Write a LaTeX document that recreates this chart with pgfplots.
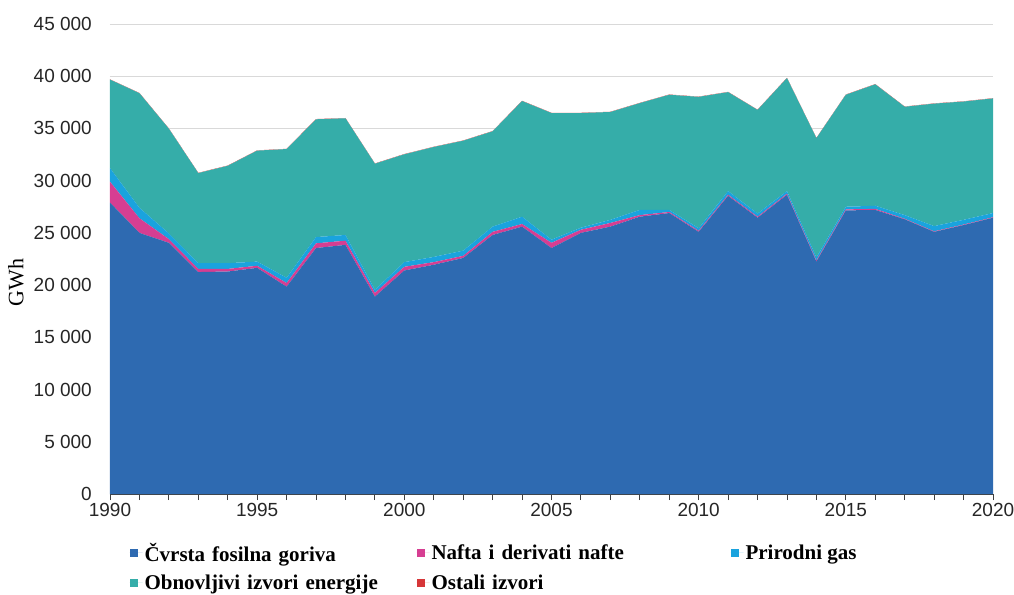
\documentclass[border=0pt]{standalone}
\usepackage{pgfplots}
\pgfplotsset{compat=1.18}
\usepackage{pgfplotstable}
\usepackage{fontspec}
\setmainfont{Liberation Serif}
\setsansfont{Liberation Sans}
\definecolor{cblue}{RGB}{46,106,177}
\definecolor{cmag}{RGB}{214,62,146}
\definecolor{ccyan}{RGB}{26,163,222}
\definecolor{cteal}{RGB}{53,173,169}
\definecolor{cred}{RGB}{214,54,56}
\definecolor{cgrid}{RGB}{217,217,217}

\pgfplotstableread{
year cvrsta nafta gas obnov ostali
1990 27900 2000 1300 8475 25
1991 25000 1400 1000 10975 25
1992 24050 350 550 10025 25
1993 21250 300 550 8625 25
1994 21300 250 550 9325 25
1995 21650 200 400 10625 25
1996 19850 350 500 12325 25
1997 23550 450 600 11275 25
1998 23850 400 550 11175 25
1999 18900 350 300 12075 25
2000 21400 350 450 10325 25
2001 21950 250 500 10525 25
2002 22600 200 500 10525 25
2003 24800 300 500 9125 25
2004 25600 250 700 11075 25
2005 23550 500 300 12125 25
2006 25000 300 200 10975 25
2007 25600 350 300 10325 25
2008 26550 150 500 10225 25
2009 26900 100 200 11025 25
2010 25100 100 250 12575 25
2011 28550 100 350 9475 25
2012 26450 100 300 9925 25
2013 28650 100 250 10825 25
2014 22250 100 300 11425 25
2015 27150 100 250 10725 25
2016 27200 100 300 11625 25
2017 26300 50 350 10375 25
2018 25100 50 500 11725 25
2019 25750 50 450 11325 25
2020 26450 50 400 10975 25
}\datatable

\begin{document}
\begin{tikzpicture}
\useasboundingbox (-110pt,-100pt) rectangle (904pt,494pt);
\begin{axis}[
  at={(0pt,0pt)}, anchor=south west,
  scale only axis, width=883pt, height=470pt,
  xmin=1990, xmax=2020, ymin=0, ymax=45000,
  stack plots=y,
  axis x line*=bottom, axis y line*=left,
  y axis line style={draw=none},
  x axis line style={draw=black!75, line width=1pt},
  xtick={1990,1995,...,2020},
  minor xtick={1990,...,2020},
  ytick={0,5000,...,45000},
  tick align=outside,
  major tick length=6pt, minor tick length=6pt,
  xtick style={draw=black!75, line width=0.8pt},
  ytick style={draw=none},
  ymajorgrids, grid style={cgrid, line width=0.9pt},
  scaled y ticks=false,
  /pgf/number format/1000 sep={\ },
  /pgf/number format/assume math mode=true,
  x tick label style={/pgf/number format/1000 sep={}},
  tick label style={font=\sffamily\fontsize{19}{19}\selectfont, text=black!85},
  yticklabel style={inner sep=0pt, xshift=-12pt},
  xticklabel style={inner sep=0pt, yshift=-3pt},
  ylabel={GWh},
  ylabel style={at={(axis description cs:-0.1065,0.45)}, anchor=center, font=\fontsize{22}{22}\selectfont},
  legend columns=3,
  legend cell align=left,
  legend image code/.code={\fill[#1] (0pt,-4pt) rectangle (8pt,4pt); \path (0pt,0pt) -- (13pt,0pt);},
  legend style={at={(axis description cs:0.0185,-0.095)}, anchor=north west, draw=none, fill=none,
    font=\bfseries\fontsize{21}{21}\selectfont, row sep=8pt,
    /tikz/column 2/.style={text width=270pt},
    /tikz/column 4/.style={text width=297pt}},
]
\addplot[fill=cblue, draw=none] table[x=year, y=cvrsta] {\datatable} \closedcycle;
\addlegendentry{Čvrsta fosilna goriva}
\addplot[fill=cmag, draw=none] table[x=year, y=nafta] {\datatable} \closedcycle;
\addlegendentry{Nafta i derivati nafte}
\addplot[fill=ccyan, draw=none] table[x=year, y=gas] {\datatable} \closedcycle;
\addlegendentry{Prirodni gas}
\addplot[fill=cteal, draw=none] table[x=year, y=obnov] {\datatable} \closedcycle;
\addlegendentry{Obnovljivi izvori energije}
\addplot[fill=cred, draw=none] table[x=year, y=ostali] {\datatable} \closedcycle;
\addlegendentry{Ostali izvori}
\end{axis}
\end{tikzpicture}
\end{document}
